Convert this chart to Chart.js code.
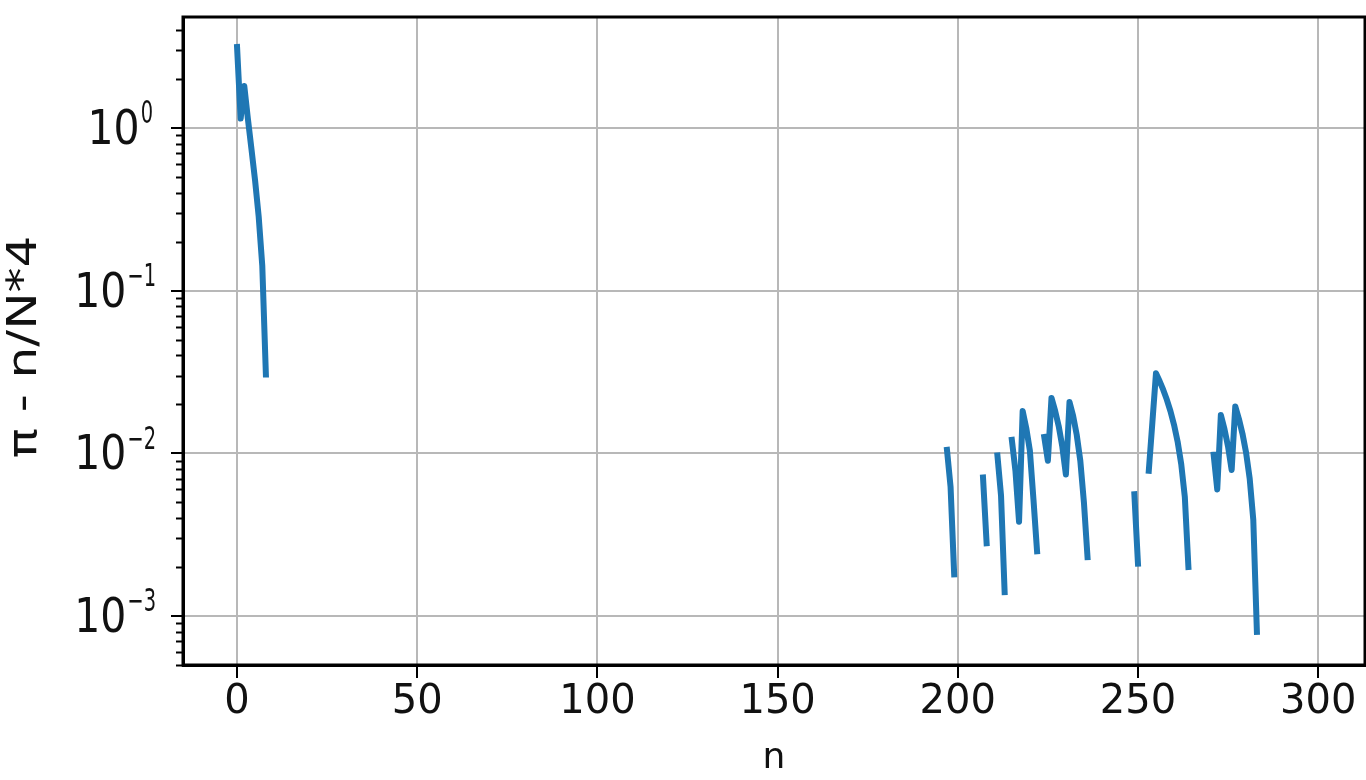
<!DOCTYPE html>
<html>
<head>
<meta charset="utf-8">
<script src="https://cdn.jsdelivr.net/npm/chart.js@4.4.1/dist/chart.umd.min.js"></script>
<style>
  body { margin: 0; background: #fff; }
  #wrap { width: 1366px; height: 780px; }
</style>
</head>
<body>
<div id="wrap"><canvas id="errChart" width="1366" height="780"></canvas></div>
<script>
// n where each visible (positive) run of the curve starts
const segStarts = [0, 197, 207, 211, 215, 224, 249, 253, 271];
// pi - n/N*4 along each run
const seg0 = [3.14, 1.14, 1.81, 1.14, 0.74, 0.475, 0.285, 0.142, 0.0305];
const seg1 = [0.0105, 0.0062, 0.0018];
const seg2 = [0.0071, 0.0028];
const seg3 = [0.0097, 0.0055, 0.0014];
const seg4 = [0.0121, 0.0078, 0.0038, 0.0182, 0.0143, 0.0104, 0.0052, 0.0025];
const seg5 = [0.0126, 0.0090, 0.0219, 0.0183, 0.0147, 0.0110, 0.0074, 0.0207, 0.0170, 0.0130, 0.0090, 0.0050, 0.0023];
const seg6 = [0.0056, 0.0021];
const seg7 = [0.0078, 0.0155, 0.0310, 0.0278, 0.0246, 0.0214, 0.0182, 0.0150, 0.0118, 0.0086, 0.0054, 0.0020];
const seg8 = [0.0098, 0.0060, 0.0172, 0.0141, 0.0110, 0.0079, 0.0194, 0.0163, 0.0132, 0.0101, 0.0070, 0.0039, 0.0008];
const segValues = [seg0, seg1, seg2, seg3, seg4, seg5, seg6, seg7, seg8];

const xTicks = [0, 50, 100, 150, 200, 250, 300];
const yDecades = [-3, -2, -1, 0];
const yTitle = 'π - n/N*4';

// build points, with a null between runs so the line breaks (negative values on a log axis)
const points = [];
segStarts.forEach((s, i) => {
    if (i > 0) points.push({ x: s - 1, y: null });
    segValues[i].forEach((v, j) => points.push({ x: s + j, y: v }));
});

const isDecade = v => Math.abs(Math.log10(v) - Math.round(Math.log10(v))) < 1e-9;

// box round the plot, minor y ticks, 10^k labels and the (taller) y title
const framePlugin = {
    id: 'frame',
    afterDraw(chart) {
        const ctx = chart.ctx;
        const a = chart.chartArea;
        const y = chart.scales.y;
        ctx.save();
        ctx.strokeStyle = '#000';
        ctx.lineWidth = 2;
        y.ticks.forEach(t => {
            if (isDecade(t.value)) return;
            const py = Math.round(y.getPixelForValue(t.value)) + 0.5;
            ctx.beginPath();
            ctx.moveTo(a.left, py);
            ctx.lineTo(a.left - 7, py);
            ctx.stroke();
        });
        ctx.lineWidth = 3;
        ctx.strokeRect(a.left, a.top, a.right - a.left, a.bottom - a.top);

        // decade labels: "10" with a raised exponent
        ctx.fillStyle = '#111';
        ctx.textBaseline = 'alphabetic';
        yDecades.forEach(e => {
            const py = y.getPixelForValue(Math.pow(10, e));
            const exp = e < 0 ? '\u2212' + Math.abs(e) : String(e);
            const right = e < 0 ? a.left - 27 : a.left - 30;
            ctx.save();
            ctx.translate(0, py);
            ctx.scale(1, 1.15);
            ctx.font = '27px "DejaVu Sans"';
            const ew = ctx.measureText(exp).width * 0.72;
            ctx.save();
            ctx.translate(right - ew, -4);
            ctx.scale(0.72, 1);
            ctx.textAlign = 'left';
            ctx.fillText(exp, 0, 0);
            ctx.restore();
            ctx.font = '41px "DejaVu Sans"';
            ctx.textAlign = 'right';
            ctx.fillText('10', right - ew - 1, 14);
            ctx.restore();
        });

        // y axis title
        ctx.translate(26, (a.top + a.bottom) / 2 + 6);
        ctx.rotate(-Math.PI / 2);
        ctx.scale(1.25, 1);
        ctx.font = '40px "DejaVu Sans"';
        ctx.textAlign = 'center';
        ctx.textBaseline = 'middle';
        ctx.fillText(yTitle, 0, 0);
        ctx.restore();
    }
};

const errCtx = document.getElementById('errChart').getContext('2d');
new Chart(errCtx, {
    type: 'line',
    data: {
        datasets: [{
            data: points,
            borderColor: '#1f77b4',
            borderWidth: 6,
            borderCapStyle: 'square',
            borderJoinStyle: 'round',
            pointRadius: 0,
            tension: 0,
            spanGaps: false,
            fill: false
        }]
    },
    options: {
        responsive: false,
        animation: false,
        layout: { padding: { top: 17, right: 1, left: 0, bottom: 0 } },
        plugins: {
            legend: { display: false },
            tooltip: { enabled: false }
        },
        scales: {
            x: {
                type: 'linear',
                min: -15,
                max: 313,
                afterBuildTicks: scale => { scale.ticks = xTicks.map(v => ({ value: v })); },
                afterFit: scale => {
                    scale.height = 115;
                    scale.paddingLeft = 0;
                    scale.paddingRight = 0;
                },
                grid: { color: '#b8b8b8', lineWidth: 2, tickColor: '#000', tickLength: 13 },
                border: { color: '#000', width: 3 },
                ticks: { color: '#111', padding: 1, font: { family: 'DejaVu Sans', size: 40 }, maxRotation: 0, autoSkip: false },
                title: { display: true, text: 'n', color: '#111', padding: { top: 0, bottom: 0 }, font: { family: 'DejaVu Sans', size: 36 } }
            },
            y: {
                type: 'logarithmic',
                min: 5e-4,
                max: 4.8,
                afterBuildTicks: scale => {
                    const t = [];
                    for (let e = -4; e <= 0; e++) {
                        for (let m = 1; m <= 9; m++) {
                            const v = m * Math.pow(10, e);
                            if (v >= 5e-4 && v <= 4.8) t.push({ value: v });
                        }
                    }
                    scale.ticks = t;
                },
                afterFit: scale => {
                    scale.width = 183;
                    scale.paddingTop = 0;
                    scale.paddingBottom = 0;
                },
                grid: {
                    lineWidth: 2,
                    tickLength: 12,
                    color: c => (c.tick && isDecade(c.tick.value) ? '#b8b8b8' : 'rgba(0,0,0,0)'),
                    tickColor: c => (c.tick && isDecade(c.tick.value) ? '#000' : 'rgba(0,0,0,0)')
                },
                border: { color: '#000', width: 3 },
                ticks: { autoSkip: false, callback: () => '' },
                title: { display: false }
            }
        }
    },
    plugins: [framePlugin]
});
</script>
</body>
</html>
